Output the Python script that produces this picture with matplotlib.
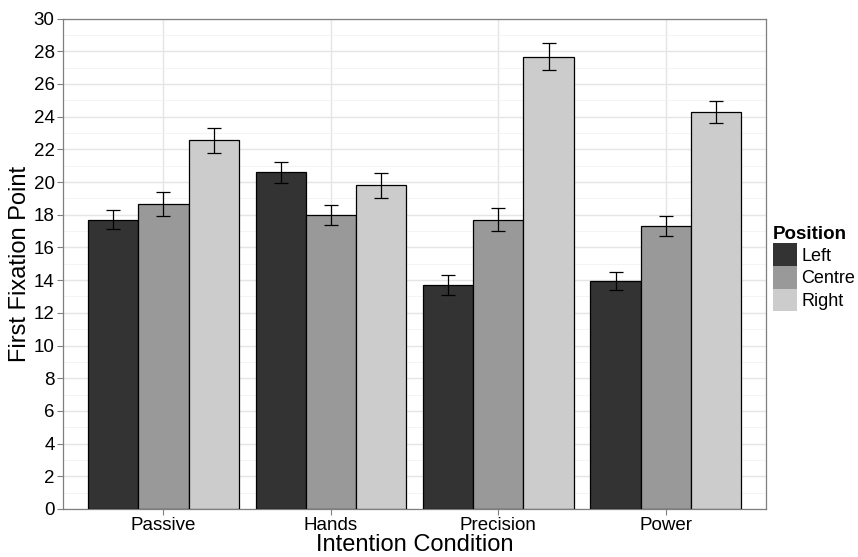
import numpy as np
import matplotlib
matplotlib.use('Agg')
from matplotlib import pyplot as plt
from matplotlib.patches import Patch

conditions = ['Passive', 'Hands', 'Precision', 'Power']
positions = ['Left', 'Centre', 'Right']
colours = ['#333333', '#999999', '#cccccc']

means = {
    'Left':   [17.7, 20.6, 13.7, 13.95],
    'Centre': [18.67, 17.98, 17.7, 17.33],
    'Right':  [22.55, 19.8, 27.68, 24.3],
}
errors = {
    'Left':   [0.6, 0.63, 0.59, 0.57],
    'Centre': [0.75, 0.61, 0.69, 0.6],
    'Right':  [0.77, 0.76, 0.8, 0.67],
}

plt.rcParams['font.family'] = ['Liberation Sans', 'DejaVu Sans']

fig = plt.figure(figsize=(8.58, 5.57), dpi=100)
ax = fig.add_axes([0.0734, 0.0862, 0.8196, 0.8804])

x = np.arange(1, len(conditions) + 1)
w = 0.3
for i, pos in enumerate(positions):
    xs = x + (i - 1) * w
    ax.bar(xs, means[pos], width=w, color=colours[i], edgecolor='black',
           linewidth=0.9, zorder=3)
    ax.errorbar(xs, means[pos], yerr=errors[pos], fmt='none', ecolor='black',
                elinewidth=0.9, capsize=5, capthick=0.9, zorder=4)

ax.set_xlim(0.4, 4.6)
ax.set_ylim(0, 30)
ax.set_yticks(np.arange(0, 31, 2))
ax.set_yticks(np.arange(1, 30, 2), minor=True)
ax.set_xticks(x)
ax.set_xticklabels(conditions)
ax.grid(which='major', color='#e5e5e5', linewidth=1.0, zorder=0)
ax.grid(which='minor', axis='y', color='#f2f2f2', linewidth=0.6, zorder=0)
ax.set_axisbelow(True)
ax.tick_params(which='major', length=4, color='#7f7f7f', labelsize=13.5,
               labelcolor='black', pad=2)
ax.tick_params(which='minor', length=0)
for s in ax.spines.values():
    s.set_color('#7f7f7f')
    s.set_linewidth(0.9)

ax.set_xlabel('Intention Condition', fontsize=17, labelpad=0)
ax.set_ylabel('First Fixation Point', fontsize=17, labelpad=2)

handles = [Patch(facecolor=c, edgecolor='none') for c in colours]
leg = ax.legend(handles, positions, title='Position', loc='center left',
                bbox_to_anchor=(1.01, 0.49), frameon=False, fontsize=13,
                title_fontsize=13.5, handlelength=1.3, handleheight=1.55,
                handletextpad=0.25, labelspacing=0.0, borderaxespad=0,
                borderpad=0)
leg.get_title().set_fontweight('bold')
leg._legend_box.align = 'left'

fig.savefig('out.png', dpi=100)
